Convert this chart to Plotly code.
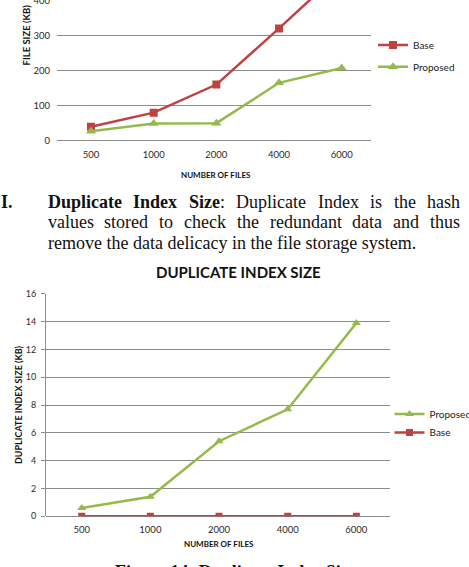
import plotly.graph_objects as go

# ---------------- data ----------------
files = ["500", "1000", "2000", "4000", "6000"]
size_base = [40, 80, 160, 320, 485]
size_proposed = [27, 49, 50, 165, 207]
dup_proposed = [0.6, 1.4, 5.4, 7.7, 13.9]
dup_base = [0, 0, 0, 0, 0]
size_ticks = [0, 100, 200, 300, 400]
dup_ticks = [0, 2, 4, 6, 8, 10, 12, 14, 16]

RED = "#BE4340"
GREEN = "#94BA4C"
GRID = "#8c8c8c"
TICKC = "#2a2a2a"
W, H = 469, 567


def px(x):
    return x / W


def py(y):
    return 1 - y / H


fig = go.Figure()

# top chart
fig.add_trace(go.Scatter(x=files, y=size_base, name="Base", mode="lines+markers",
                         line=dict(color=RED, width=2.5),
                         marker=dict(symbol="square", size=8, color=RED),
                         xaxis="x", yaxis="y", legend="legend"))
fig.add_trace(go.Scatter(x=files, y=size_proposed, name="Proposed", mode="lines+markers",
                         line=dict(color=GREEN, width=2.5),
                         marker=dict(symbol="triangle-up", size=9, color=GREEN),
                         xaxis="x", yaxis="y", legend="legend2"))
# bottom chart
fig.add_trace(go.Scatter(x=files, y=dup_proposed, name="Proposed", mode="lines+markers",
                         line=dict(color=GREEN, width=2.5),
                         marker=dict(symbol="triangle-up", size=8, color=GREEN),
                         xaxis="x2", yaxis="y2", legend="legend3"))
fig.add_trace(go.Scatter(x=files, y=dup_base, name="Base", mode="lines+markers",
                         line=dict(color=RED, width=2.5),
                         marker=dict(symbol="square", size=7, color=RED),
                         xaxis="x2", yaxis="y2", legend="legend4"))

tickfont = dict(family="Lato", size=9.5, color=TICKC)

fig.update_layout(
    width=W, height=H,
    showlegend=True,
    margin=dict(l=0, r=0, t=0, b=0, autoexpand=False),
    paper_bgcolor="white", plot_bgcolor="white",
    xaxis=dict(domain=[px(57), px(371)], type="category", range=[-0.542, 4.467],
               showgrid=False, showline=False, ticks="", tickfont=tickfont,
               ticklabelstandoff=7, anchor="y", fixedrange=True),
    yaxis=dict(domain=[py(140.7), 1.0], range=[0, 401], tickvals=size_ticks,
               showgrid=True, gridcolor=GRID, gridwidth=1, zeroline=True,
               zerolinecolor=GRID, zerolinewidth=1, showline=False, ticks="",
               tickfont=tickfont, ticklabelstandoff=6, ticklabeloverflow="allow",
               anchor="x"),
    xaxis2=dict(domain=[px(46), px(390)], type="category", range=[-0.52, 4.49],
                showgrid=False, showline=False, ticks="", tickfont=tickfont,
                ticklabelstandoff=6, anchor="y2"),
    yaxis2=dict(domain=[py(516.3), py(293.9)], range=[0, 16], tickvals=dup_ticks,
                showgrid=True, gridcolor=GRID, gridwidth=1, zeroline=True,
                zerolinecolor=GRID, zerolinewidth=1, showline=True, linecolor=GRID,
                linewidth=1, ticks="outside", ticklen=4, tickcolor=GRID,
                tickfont=dict(family="Lato", size=9, color=TICKC),
                ticklabelstandoff=3, anchor="x2"),
)

legfont = dict(family="Lato", size=10, color="#222")
for name, x, y in [("legend", 373, 45), ("legend2", 373, 66.7),
                   ("legend3", 389.5, 414), ("legend4", 389.5, 432.5)]:
    fig.update_layout({name: dict(x=px(x), y=py(y), xanchor="left", yanchor="middle",
                                  bgcolor="rgba(0,0,0,0)", borderwidth=0,
                                  font=legfont, itemwidth=30, visible=True)})

ann = []
# axis titles
axt = dict(family="Lato", size=8, color="#111")
ann.append(dict(text="<b>FILE SIZE (KB)</b>", x=px(25.5), y=py(35), textangle=-90,
                font=dict(family="Lato", size=9.5, color="#111")))
ann.append(dict(text="<b>NUMBER OF FILES</b>", x=px(216), y=py(175), font=axt))
ann.append(dict(text="<b>DUPLICATE INDEX SIZE (KB)</b>", x=px(18), y=py(405),
                textangle=-90, font=dict(family="Lato", size=9, color="#111")))
ann.append(dict(text="<b>NUMBER OF FILES</b>", x=px(218.7), y=py(544), font=axt))
ann.append(dict(text="<b>DUPLICATE INDEX SIZE</b>", x=px(239), y=py(271.5),
                font=dict(family="Lato", size=15, color="#111")))

# paragraph text (justified lines laid out word by word)
FS = 18
REG = dict(a=.444, c=.444, d=.5, e=.444, h=.5, i=.278, k=.5, l=.278, n=.5, o=.5,
           p=.5, r=.333, s=.389, t=.278, u=.5, v=.5, x=.5, z=.444, y=.5, D=.722,
           I=.333, S=.556)
REG[":"] = .278
BOLD = dict(a=.5, c=.444, d=.556, e=.444, i=.278, l=.278, n=.556, p=.556, t=.333,
            u=.556, x=.5, z=.444, D=.722, I=.389, S=.556)


def wwidth(word, bold):
    tbl = BOLD if bold else REG
    return sum(tbl.get(ch, REG.get(ch, .5)) for ch in word) * FS


def justify(words, left, right):
    widths = []
    for plain, html, b in words:
        if b == "mixed":
            widths.append(wwidth(plain[:-1], True) + wwidth(plain[-1], False))
        else:
            widths.append(wwidth(plain, b))
    gap = (right - left - sum(widths)) / (len(words) - 1)
    out, x = [], left
    for (plain, html, b), w in zip(words, widths):
        out.append((html, x))
        x += w + gap
    return out


line1 = [("Duplicate", "<b>Duplicate</b>", True), ("Index", "<b>Index</b>", True),
         ("Size:", "<b>Size</b>:", "mixed"), ("Duplicate", "Duplicate", False),
         ("Index", "Index", False), ("is", "is", False), ("the", "the", False),
         ("hash", "hash", False)]
line2 = [(w, w, False) for w in
         ["values", "stored", "to", "check", "the", "redundant", "data", "and", "thus"]]

serif = dict(family="Liberation Serif", size=FS, color="#111")
ann.append(dict(text="<b>I.</b>", x=px(-1), y=py(201.6), xanchor="left", font=serif))
for t, x in justify(line1, 46.7, 459):
    ann.append(dict(text=t, x=px(x - 1), y=py(201.6), xanchor="left", font=serif))
for t, x in justify(line2, 46.7, 459):
    ann.append(dict(text=t, x=px(x - 1), y=py(222.2), xanchor="left", font=serif))
ann.append(dict(text="remove the data delicacy in the file storage system.",
                x=px(45.7), y=py(242.9), xanchor="left", font=serif))
ann.append(dict(text="<b>Figure 14: Duplicate Index Size</b>", x=px(236), y=py(572),
                font=serif))

for a in ann:
    a.setdefault("xanchor", "center")
    a.update(xref="paper", yref="paper", yanchor="middle", showarrow=False)
fig.update_layout(annotations=ann)

fig.write_html("out.html")
